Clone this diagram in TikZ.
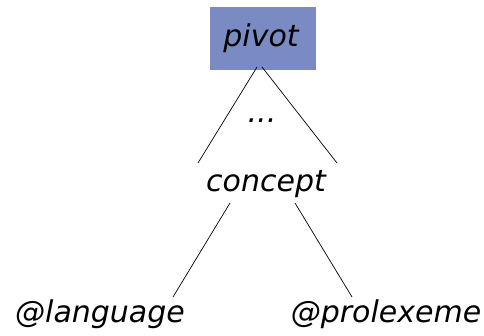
\documentclass[tikz,border=0pt]{standalone}
\usepackage{fontspec}
\setmainfont{DejaVu Sans}
\definecolor{pivotfill}{RGB}{122,139,196}
\begin{document}
\begin{tikzpicture}[x=1pt,y=-1pt,
  label/.style={anchor=base,inner sep=0pt,font=\fontsize{30}{36}\selectfont\itshape},
  branch/.style={line width=0.7pt,black}]
\useasboundingbox (0,0) rectangle (484,336);
% pivot box
\node[fill=pivotfill,minimum width=106pt,minimum height=63pt,inner sep=0pt] (box) at (263,38.5) {};
\node[label] (pivot) at (261,47) {pivot};
\node[label] (dots) at (262,123) {...};
\node[label] (concept) at (266,192) {concept};
\node[label] (lang) at (100,323) {@language};
\node[label] (prolex) at (386,323) {@prolexeme};
% branch end points
\coordinate (pl) at (257,67);
\coordinate (pr) at (262,67);
\coordinate (cl) at (198,163);
\coordinate (cr) at (337,163);
\coordinate (ldl) at (230,203);
\coordinate (ldr) at (295,203);
\coordinate (la) at (173,297);
\coordinate (pa) at (352,297);
\draw[branch] (pl) -- (cl);
\draw[branch] (pr) -- (cr);
\draw[branch] (ldl) -- (la);
\draw[branch] (ldr) -- (pa);
\end{tikzpicture}
\end{document}
